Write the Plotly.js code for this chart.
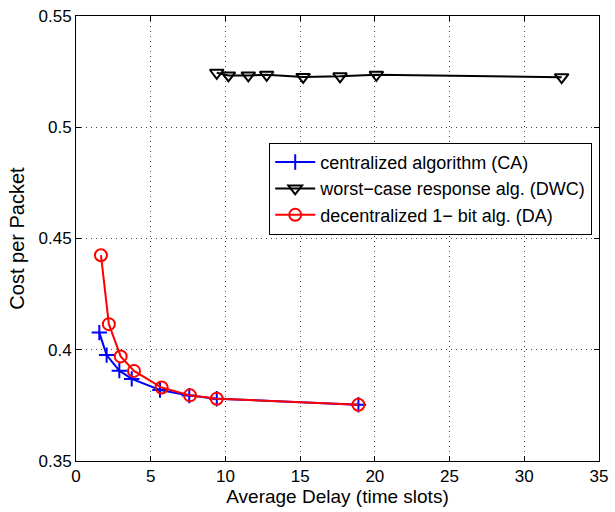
<!DOCTYPE html>
<html><head><meta charset="utf-8">
<script src="https://cdn.plot.ly/plotly-3.0.1.min.js"></script>
<style>html,body{margin:0;padding:0;background:#fff}#chart{width:615px;height:512px}</style>
</head><body><div id="chart"></div>
<script>
const caDelay = [1.56, 2.05, 2.9, 3.73, 5.62, 7.58, 9.42, 18.9];
const caCost  = [0.4077, 0.3976, 0.3906, 0.3869, 0.3819, 0.3794, 0.378, 0.3753];
const dwcDelay = [9.42, 10.2, 11.53, 12.76, 15.2, 17.67, 20.1, 32.5];
const dwcCost  = [0.5245, 0.5233, 0.5233, 0.5236, 0.5226, 0.5229, 0.5236, 0.5225];
const daDelay = [1.67, 2.2, 2.99, 3.88, 5.73, 7.63, 9.42, 18.9];
const daCost  = [0.4425, 0.4115, 0.397, 0.3905, 0.383, 0.3795, 0.378, 0.3753];
const names = ['centralized algorithm (CA)', 'worst\u2212case response alg. (DWC)', 'decentralized 1\u2212 bit alg. (DA)'];
const xTicks = [0,5,10,15,20,25,30,35];
const yTicks = [0.35,0.4,0.45,0.5,0.55];

const traces = [
  {x: caDelay, y: caCost, name: names[0], mode: 'lines+markers',
   line: {color: '#0000ff', width: 2}, marker: {symbol: 'cross-thin-open', size: 11, line: {color: '#0000ff', width: 2}}},
  {x: dwcDelay, y: dwcCost, name: names[1], mode: 'lines+markers',
   line: {color: '#000000', width: 2}, marker: {symbol: 'triangle-down-open', size: 12, color: '#000', line: {color: '#000000', width: 2}}},
  {x: daDelay, y: daCost, name: names[2], mode: 'lines+markers',
   line: {color: '#ff0000', width: 2}, marker: {symbol: 'circle-open', size: 12, color: '#f00', line: {color: '#ff0000', width: 2}}}
];

const FONT = 'Liberation Sans, Arial, sans-serif';
const axisCommon = {
  showline: true, linecolor: '#000', linewidth: 1, mirror: 'ticks',
  ticks: 'inside', ticklen: 5, tickcolor: '#000', tickwidth: 1,
  showgrid: true, gridcolor: '#444', griddash: '1px,4px', gridwidth: 1,
  zeroline: false,
  tickfont: {family: FONT, size: 17, color: '#000'}
};

const layout = {
  width: 615, height: 512,
  margin: {l: 76, r: 16, t: 16, b: 51, autoexpand: false},
  paper_bgcolor: '#fff', plot_bgcolor: '#fff',
  showlegend: true,
  xaxis: Object.assign({}, axisCommon, {range: [0, 35], tickvals: xTicks, ticktext: xTicks.map(String), automargin: false,
    title: {text: 'Average Delay (time slots)', font: {family: FONT, size: 19, color: '#000'}, standoff: 2}}),
  yaxis: Object.assign({}, axisCommon, {range: [0.35, 0.55], tickvals: yTicks, ticktext: yTicks.map(String), automargin: false,
    title: {text: 'Cost per Packet', font: {family: FONT, size: 20, color: '#000'}, standoff: 8}}),
  legend: {x: 0.987, y: 0.715, xanchor: 'right', yanchor: 'top', bgcolor: '#fff', bordercolor: '#000', borderwidth: 1,
    font: {family: FONT, size: 18, color: '#000'}, tracegroupgap: 0, itemwidth: 40}
};

Plotly.newPlot('chart', traces, layout, {displayModeBar: false, staticPlot: true});
</script></body></html>
